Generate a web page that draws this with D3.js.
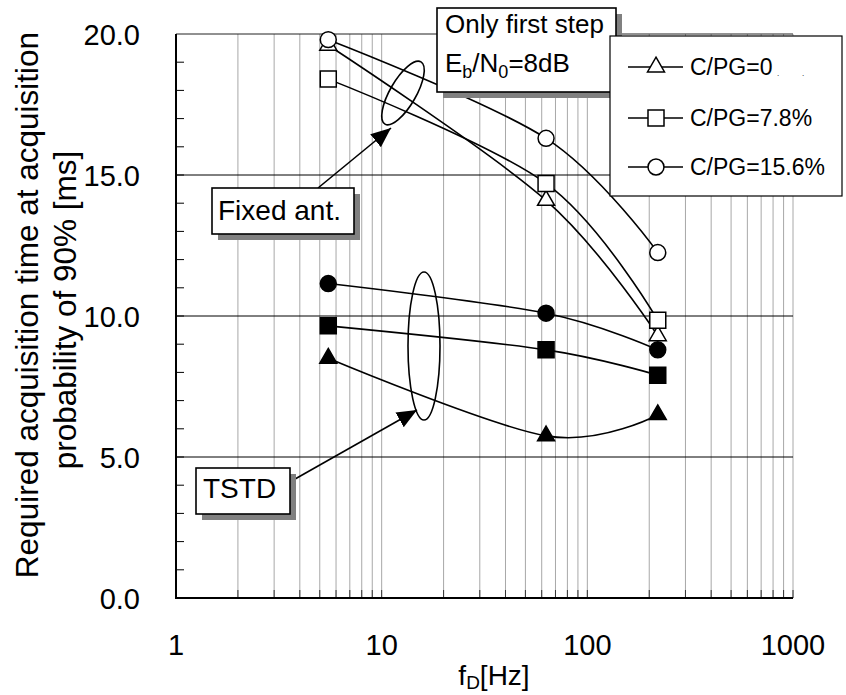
<!DOCTYPE html>
<html>
<head>
<meta charset="utf-8">
<script src="https://cdn.jsdelivr.net/npm/d3@7"></script>
<style>
  body { margin: 0; background: #fff; }
  text { font-family: "Liberation Sans", Arial, sans-serif; fill: #000; }
</style>
</head>
<body>
<div id="chart"></div>
<script>
const width = 846;
const height = 695;

// data
const freqs = [5.5, 63, 220];
const fixedCpg0 = [19.6, 14.1, 9.3];
const fixedCpg78 = [18.4, 14.7, 9.85];
const fixedCpg156 = [19.8, 16.3, 12.25];
const tstdCpg0 = [8.5, 5.75, 6.5];
const tstdCpg78 = [9.65, 8.8, 7.9];
const tstdCpg156 = [11.15, 10.1, 8.8];
const legendLabels = ["C/PG=0", "C/PG=7.8%", "C/PG=15.6%"];
const xTicks = [1, 10, 100, 1000];
const yTicks = [0, 5, 10, 15, 20];

const svg = d3.select("#chart").append("svg")
  .attr("width", width)
  .attr("height", height);

const x = d3.scaleLog().domain([1, 1000]).range([176, 793]);
const y = d3.scaleLinear().domain([0, 20]).range([598, 34]);

// minor vertical grid
const minorX = [];
for (let dec = 1; dec < 1000; dec *= 10) {
  for (let k = 2; k <= 10; k++) minorX.push(dec * k);
}
svg.append("g").selectAll("line")
  .data(minorX)
  .join("line")
  .attr("x1", d => x(d)).attr("x2", d => x(d))
  .attr("y1", y(20)).attr("y2", y(0))
  .attr("stroke", "#a8a8a8")
  .attr("stroke-width", 1);

// bottom ticks (inside)
svg.append("g").selectAll("line")
  .data(minorX)
  .join("line")
  .attr("x1", d => x(d)).attr("x2", d => x(d))
  .attr("y1", y(0)).attr("y2", y(0) - 8)
  .attr("stroke", "#333");

// horizontal grid
svg.append("g").selectAll("line")
  .data([5, 10, 15])
  .join("line")
  .attr("x1", x(1)).attr("x2", x(1000))
  .attr("y1", d => y(d)).attr("y2", d => y(d))
  .attr("stroke", "#000")
  .attr("stroke-width", 1);

// top border
svg.append("line")
  .attr("x1", x(1)).attr("x2", x(1000))
  .attr("y1", y(20)).attr("y2", y(20))
  .attr("stroke", "#222");

// left minor ticks
svg.append("g").selectAll("line")
  .data(d3.range(1, 20))
  .join("line")
  .attr("x1", x(1)).attr("x2", x(1) + 8)
  .attr("y1", d => y(d)).attr("y2", d => y(d))
  .attr("stroke", "#000");

// axes lines
svg.append("line").attr("x1", x(1)).attr("x2", x(1)).attr("y1", y(20)).attr("y2", y(0) + 1)
  .attr("stroke", "#000").attr("stroke-width", 2);
svg.append("line").attr("x1", x(1) - 1).attr("x2", x(1000)).attr("y1", y(0)).attr("y2", y(0))
  .attr("stroke", "#000").attr("stroke-width", 2);

// tick labels
svg.append("g").selectAll("text")
  .data(yTicks)
  .join("text")
  .attr("x", 140)
  .attr("y", d => y(d) + 11)
  .attr("text-anchor", "end")
  .style("font-size", "29px")
  .text(d => d.toFixed(1));

svg.append("g").selectAll("text")
  .data(xTicks)
  .join("text")
  .attr("x", d => x(d))
  .attr("y", 655)
  .attr("text-anchor", "middle")
  .style("font-size", "29px")
  .text(d => d);

// axis titles
const xt = svg.append("text")
  .attr("x", 494).attr("y", 685)
  .attr("text-anchor", "middle")
  .style("font-size", "28px");
xt.append("tspan").text("f");
xt.append("tspan").attr("dy", 4).style("font-size", "19px").text("D");
xt.append("tspan").attr("dy", -4).text("[Hz]");

svg.append("text")
  .attr("transform", "translate(38,305) rotate(-90)")
  .attr("text-anchor", "middle")
  .style("font-size", "31.5px")
  .text("Required acquisition time at acquisition");
svg.append("text")
  .attr("transform", "translate(76,310) rotate(-90)")
  .attr("text-anchor", "middle")
  .style("font-size", "31.5px")
  .text("probability of 90% [ms]");

// series
const series = [
  {vals: fixedCpg0, shape: d3.symbolTriangle, size: 125, fill: "#fff"},
  {vals: fixedCpg78, shape: d3.symbolSquare, size: 256, fill: "#fff"},
  {vals: fixedCpg156, shape: d3.symbolCircle, size: 200, fill: "#fff"},
  {vals: tstdCpg0, shape: d3.symbolTriangle, size: 125, fill: "#000"},
  {vals: tstdCpg78, shape: d3.symbolSquare, size: 256, fill: "#000"},
  {vals: tstdCpg156, shape: d3.symbolCircle, size: 200, fill: "#000"}
];

const line = d3.line()
  .x(d => x(d[0]))
  .y(d => y(d[1]))
  .curve(d3.curveCardinal.tension(0));

series.forEach(s => {
  const pts = freqs.map((f, i) => [f, s.vals[i]]);
  svg.append("path")
    .datum(pts)
    .attr("fill", "none")
    .attr("stroke", "#000")
    .attr("stroke-width", 1.6)
    .attr("d", line);
});

series.forEach(s => {
  const pts = freqs.map((f, i) => [f, s.vals[i]]);
  svg.append("g").selectAll("path")
    .data(pts)
    .join("path")
    .attr("transform", d => `translate(${x(d[0])},${y(d[1])})`)
    .attr("d", d3.symbol().type(s.shape).size(s.size))
    .attr("fill", s.fill)
    .attr("stroke", "#000")
    .attr("stroke-width", 1.5);
});

// ellipses
svg.append("ellipse")
  .attr("transform", "translate(403,93) rotate(-60)")
  .attr("rx", 36).attr("ry", 13)
  .attr("fill", "none").attr("stroke", "#000").attr("stroke-width", 1.6);
svg.append("ellipse")
  .attr("cx", 424).attr("cy", 346)
  .attr("rx", 16).attr("ry", 74)
  .attr("fill", "none").attr("stroke", "#000").attr("stroke-width", 1.6);

// arrows
svg.append("defs").append("marker")
  .attr("id", "arrow")
  .attr("viewBox", "0 0 10 10")
  .attr("refX", 10).attr("refY", 5)
  .attr("markerWidth", 20).attr("markerHeight", 20)
  .attr("markerUnits", "userSpaceOnUse")
  .attr("orient", "auto")
  .append("path")
  .attr("d", "M0,0.8 L10,5 L0,9.2 Z")
  .attr("fill", "#000");

svg.append("line")
  .attr("x1", 318).attr("y1", 188).attr("x2", 391).attr("y2", 128)
  .attr("stroke", "#000").attr("stroke-width", 1.6)
  .attr("marker-end", "url(#arrow)");
svg.append("line")
  .attr("x1", 288).attr("y1", 483).attr("x2", 417).attr("y2", 410)
  .attr("stroke", "#000").attr("stroke-width", 1.6)
  .attr("marker-end", "url(#arrow)");

// shadowed label boxes
function box(x0, y0, w, h) {
  svg.append("rect").attr("x", x0 + 6).attr("y", y0 + 6).attr("width", w).attr("height", h)
    .attr("fill", "#808080");
  svg.append("rect").attr("x", x0).attr("y", y0).attr("width", w).attr("height", h)
    .attr("fill", "#fff").attr("stroke", "#000").attr("stroke-width", 1.6);
}

box(212, 188, 142, 46);
svg.append("text").attr("x", 218).attr("y", 220).style("font-size", "28px").text("Fixed ant.");

box(196, 468, 94, 46);
svg.append("text").attr("x", 203).attr("y", 498).style("font-size", "28px").text("TSTD");

box(437, 8, 179, 84);
svg.append("text").attr("x", 445).attr("y", 33).style("font-size", "26px").text("Only first step");
const eb = svg.append("text").attr("x", 445).attr("y", 72).style("font-size", "26px");
eb.append("tspan").text("E");
eb.append("tspan").attr("dy", 6).style("font-size", "18px").text("b");
eb.append("tspan").attr("dy", -6).text("/N");
eb.append("tspan").attr("dy", 6).style("font-size", "18px").text("0");
eb.append("tspan").attr("dy", -6).text("=8dB");

// legend
svg.append("rect")
  .attr("x", 610).attr("y", 36).attr("width", 232).attr("height", 160)
  .attr("fill", "#fff").attr("stroke", "#000").attr("stroke-width", 1.2);

const legendY = [67, 118, 167];
const legendShapes = series.slice(0, 3);
legendLabels.forEach((lab, i) => {
  svg.append("line")
    .attr("x1", 628).attr("x2", 683)
    .attr("y1", legendY[i]).attr("y2", legendY[i])
    .attr("stroke", "#000").attr("stroke-width", 1.6);
  svg.append("path")
    .attr("transform", `translate(656,${legendY[i]})`)
    .attr("d", d3.symbol().type(legendShapes[i].shape).size(legendShapes[i].size))
    .attr("fill", "#fff").attr("stroke", "#000").attr("stroke-width", 1.5);
  svg.append("text")
    .attr("x", 690).attr("y", legendY[i] + 8)
    .style("font-size", "23px")
    .text(lab);
});
svg.append("text").attr("x", 777).attr("y", 76).style("font-size", "8px").text(".");
svg.append("text").attr("x", 802).attr("y", 76).style("font-size", "8px").text(".");
</script>
</body>
</html>
